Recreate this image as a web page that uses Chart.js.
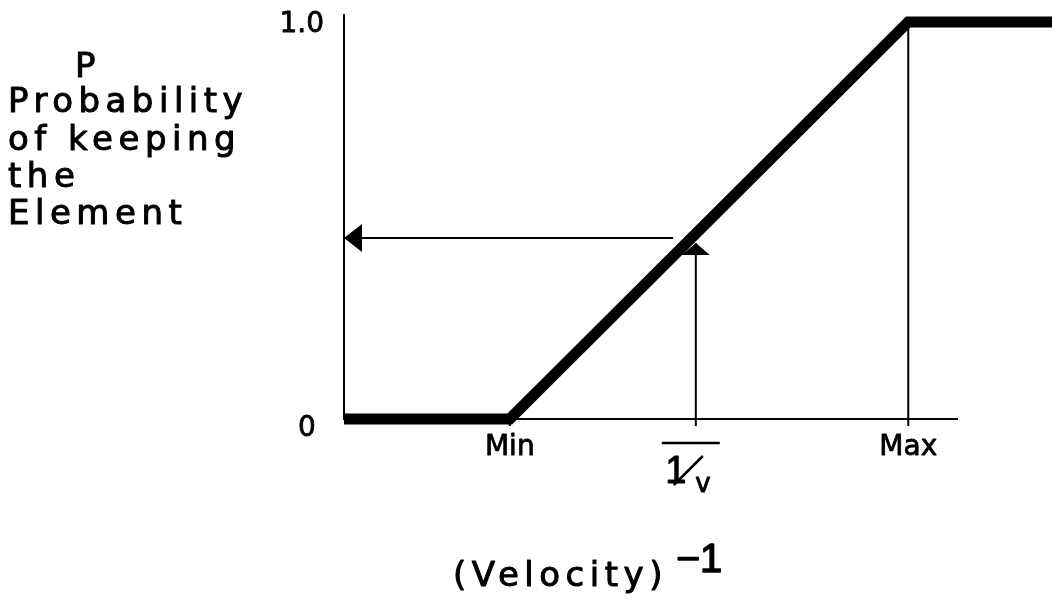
<!DOCTYPE html>
<html>
<head>
<meta charset="utf-8">
<script src="https://cdn.jsdelivr.net/npm/chart.js@4"></script>
<style>
  html, body { margin: 0; padding: 0; background: #fff; }
  #wrap { width: 1052px; height: 607px; }
</style>
</head>
<body>
<div id="wrap"><canvas id="chart" width="1052" height="607"></canvas></div>
<script>
// ── Data ──────────────────────────────────────────────────────────────────────
const xTickValues = [2.7, 5.73, 9.19];
const xTickLabels = ['Min', '1/v', 'Max'];
const yTickValues = [1, 0];
const yTickLabels = ['1.0', '0'];

// probability of keeping vs 1/velocity
const curveX = [0, 2.7, 9.19, 11.6];
const curveY = [0, 0, 1, 1];
const maxLineX = [9.19, 9.19];
const maxLineY = [0, 1];
const upArrowX = [5.73, 5.73];
const upArrowY = [0, 0.443];
const leftArrowX = [5.36, 0];
const leftArrowY = [0.456, 0.456];

const yTitleLines = ['P', 'Probability', 'of keeping', 'the', 'Element'];
const xTitle = '(Velocity)';
const xTitleExp = ['−', '1'];

const FONT = '"DejaVu Sans", "Noto Sans", sans-serif';
const FONT_ONE = '"Liberation Sans", Arial, sans-serif'; // "1" without a foot
const toPts = (xs, ys) => xs.map((x, i) => ({ x, y: ys[i] }));

// filled text with a thin outline, to get the heavier look of the original
function heavyText(ctx, t, x, y, w) {
  ctx.lineWidth = w;
  ctx.lineJoin = 'round';
  ctx.strokeText(t, x, y);
  ctx.fillText(t, x, y);
}

// ── Axes, labels, arrowheads ──────────────────────────────────────────────────
const sketchPlugin = {
  id: 'sketch',
  beforeDatasetsDraw(chart) {
    const { ctx, chartArea: a, scales: { x, y } } = chart;
    ctx.save();
    ctx.strokeStyle = '#000';
    ctx.lineWidth = 2;
    ctx.beginPath();
    ctx.moveTo(a.left, a.top);
    ctx.lineTo(a.left, y.getPixelForValue(0));
    ctx.lineTo(a.right, y.getPixelForValue(0));
    xTickValues.forEach(v => {
      const px = x.getPixelForValue(v);
      ctx.moveTo(px, y.getPixelForValue(0));
      ctx.lineTo(px, y.getPixelForValue(0) + 7);
    });
    ctx.stroke();
    ctx.restore();
  },
  afterDatasetsDraw(chart) {
    const { ctx } = chart;
    chart.data.datasets.forEach((ds, i) => {
      if (!ds.arrow) return;
      const pts = chart.getDatasetMeta(i).data;
      const tip = pts[pts.length - 1], prev = pts[pts.length - 2];
      const ang = Math.atan2(tip.y - prev.y, tip.x - prev.x);
      const [len, half] = ds.arrow;
      ctx.save();
      ctx.translate(tip.x, tip.y);
      ctx.rotate(ang);
      ctx.fillStyle = '#000';
      ctx.beginPath();
      ctx.moveTo(0, 0);
      ctx.lineTo(-len, -half);
      ctx.lineTo(-len, half);
      ctx.closePath();
      ctx.fill();
      ctx.restore();
    });
  },
  afterDraw(chart) {
    const { ctx, chartArea: a, scales: { x, y } } = chart;
    const y0 = y.getPixelForValue(0);
    ctx.save();
    ctx.fillStyle = '#000';
    ctx.strokeStyle = '#000';

    // y tick labels
    ctx.font = `28px ${FONT}`;
    ctx.textBaseline = 'middle';
    yTickValues.forEach((v, i) => {
      const py = y.getPixelForValue(v);
      if (v === 0) {
        ctx.textAlign = 'center';
        heavyText(ctx, yTickLabels[i], a.left - 37, py + 10, 0.8);
      } else {
        ctx.textAlign = 'right';
        heavyText(ctx, yTickLabels[i], a.left - 20, py + 3, 0.8);
      }
    });

    // x tick labels
    ctx.textBaseline = 'alphabetic';
    xTickValues.forEach((v, i) => {
      const px = x.getPixelForValue(v);
      if (xTickLabels[i] === '1/v') {
        ctx.lineWidth = 2.5;
        ctx.beginPath();
        ctx.moveTo(px - 34, y0 + 24);
        ctx.lineTo(px + 24, y0 + 24);
        ctx.moveTo(px - 22, y0 + 66);
        ctx.lineTo(px + 7, y0 + 37);
        ctx.stroke();
        ctx.textAlign = 'center';
        ctx.font = `38px ${FONT_ONE}`;
        heavyText(ctx, '1', px - 20, y0 + 64, 1);
        ctx.font = `26px ${FONT}`;
        heavyText(ctx, 'v', px + 7, y0 + 73, 0.8);
        ctx.font = `28px ${FONT}`;
      } else {
        ctx.textAlign = 'center';
        heavyText(ctx, xTickLabels[i], px, y0 + 36, 0.8);
      }
    });

    // titles
    ctx.font = `34px ${FONT}`;
    ctx.letterSpacing = '5.5px';
    ctx.textAlign = 'left';
    const titleX = [75, 8, 8, 8, 8];
    const titleY = [77, 112, 150, 187, 224];
    yTitleLines.forEach((t, i) => heavyText(ctx, t, titleX[i], titleY[i], 1));

    heavyText(ctx, xTitle, 453, 586, 1);
    ctx.letterSpacing = '0px';
    ctx.font = `32px ${FONT}`;
    heavyText(ctx, xTitleExp[0], 675, 569, 1.5);
    ctx.font = `40px ${FONT_ONE}`;
    heavyText(ctx, xTitleExp[1], 700, 572, 1.5);
    ctx.restore();
  }
};

// ── Chart ─────────────────────────────────────────────────────────────────────
new Chart(document.getElementById('chart'), {
  type: 'line',
  data: {
    datasets: [
      { data: toPts(curveX, curveY), borderColor: '#000', borderWidth: 11,
        borderJoinStyle: 'miter', borderCapStyle: 'butt', pointRadius: 0, clip: false },
      { data: toPts(maxLineX, maxLineY), borderColor: '#000', borderWidth: 2, pointRadius: 0 },
      { data: toPts(upArrowX, upArrowY), borderColor: '#000', borderWidth: 2, pointRadius: 0, arrow: [12, 14] },
      { data: toPts(leftArrowX, leftArrowY), borderColor: '#000', borderWidth: 2, pointRadius: 0, arrow: [18, 14], clip: false },
    ]
  },
  options: {
    responsive: false,
    animation: false,
    devicePixelRatio: 1,
    layout: { padding: { left: 344, top: 14, right: 94, bottom: 188 } },
    plugins: { legend: { display: false }, tooltip: { enabled: false } },
    scales: {
      x: { type: 'linear', min: 0, max: 10, display: false },
      y: { type: 'linear', min: 0, max: 1.02, display: false },
    },
    elements: { line: { tension: 0 } }
  },
  plugins: [sketchPlugin]
});
</script>
</body>
</html>
